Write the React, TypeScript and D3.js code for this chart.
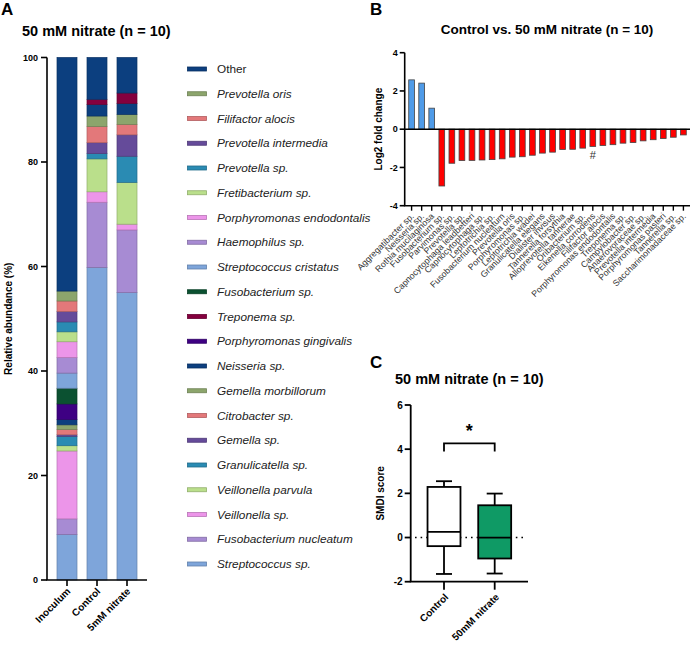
import React from "react";
import * as d3 from "d3";

// ---------- Panel A data ----------
const species = [
  "Other", "Prevotella oris", "Filifactor alocis", "Prevotella intermedia", "Prevotella sp.",
  "Fretibacterium sp.", "Porphyromonas endodontalis", "Haemophilus sp.", "Streptococcus cristatus",
  "Fusobacterium sp.", "Treponema sp.", "Porphyromonas gingivalis", "Neisseria sp.",
  "Gemella morbillorum", "Citrobacter sp.", "Gemella sp.", "Granulicatella sp.",
  "Veillonella parvula", "Veillonella sp.", "Fusobacterium nucleatum", "Streptococcus sp.",
];
const speciesColors = [
  "#0c3f7f", "#8ca56c", "#e3787a", "#654b9a", "#2a8bb3",
  "#badf8b", "#ec95e9", "#a78bd3", "#7ea5da",
  "#0b5131", "#84003e", "#3e0083", "#0c3f7f",
  "#8ca56c", "#e3787a", "#654b9a", "#2a8bb3",
  "#badf8b", "#ec95e9", "#a78bd3", "#7ea5da",
];
const samples = ["Inoculum", "Control", "5mM nitrate"];
const inoculumValues = [44.7, 1.9, 2.0, 2.0, 1.9, 1.9, 3.0, 3.0, 2.9, 3.0, 0, 3.0, 1.0, 0.9, 1.0, 0.3, 1.8, 1.0, 13.0, 3.0, 8.7];
const controlValues = [8.0, 0, 0, 0, 0, 0, 0, 0, 0, 0, 1.0, 0, 2.2, 2.0, 3.1, 2.1, 1.0, 6.3, 2.0, 12.5, 59.8];
const nitrate5Values = [6.8, 0, 0, 0, 0, 0, 0, 0, 0, 0, 2.0, 0, 2.1, 1.9, 2.0, 4.1, 5.0, 8.0, 1.1, 12.0, 55.0];
const yTicksA = [0, 20, 40, 60, 80, 100];

// ---------- Panel B data ----------
const taxaB = [
  "Aggregatibacter sp.", "Neisseria sp.", "Rothia mucilaginosa", "Fusobacterium sp.", "Parvimonas sp.",
  "Prevotella sp.", "Capnocytophaga leadbetteri", "Capnocytophaga sp.", "Leptotrichia sp.",
  "Fusobacterium nucleatum", "Prevotella oris", "Porphyromonas sp.", "Leptotrichia wadei",
  "Granulicatella elegans", "Dialister invisus", "Tannerella forsythia", "Alloprevotella tannerae",
  "Oribacterium sp.", "Eikenella corrodens", "Filifactor alocis", "Porphyromonas endodontalis",
  "Treponema sp.", "Campylobacter sp.", "Anaerovoraceae sp.", "Prevotella intermedia",
  "Porphyromonas pasteri", "Tannerella sp.", "Saccharimonadaceae sp.",
];
const log2FC = [
  2.58, 2.41, 1.10, -2.97, -1.78, -1.64, -1.63, -1.61, -1.59, -1.55, -1.46, -1.44, -1.36,
  -1.25, -1.20, -1.06, -1.05, -0.99, -0.90, -0.85, -0.81, -0.73, -0.70, -0.61, -0.55, -0.49, -0.42, -0.30,
];
const hashTaxa = ["Eikenella corrodens"];
const yTicksB = [-4, -2, 0, 2, 4];

// ---------- Panel C data ----------
const groupsC = ["Control", "50mM nitrate"];
const boxMin = [-1.65, -1.63];
const boxQ1 = [-0.39, -0.95];
const boxMedian = [0.26, 0.0];
const boxQ3 = [2.29, 1.46];
const boxMax = [2.55, 1.99];
const boxFill = ["#ffffff", "#0f9a65"];
const yTicksC = [-2, 0, 2, 4, 6];

const FONT = "'Liberation Sans', Arial, Helvetica, sans-serif";

function PanelA() {
  const y = d3.scaleLinear().domain([0, 100]).range([580, 57.5]);
  const x = d3.scaleBand<string>().domain(samples).range([47, 147]).paddingInner(1 / 3).paddingOuter(1 / 3);
  const valuesBySample = [inoculumValues, controlValues, nitrate5Values];
  const rows = samples.map((s, i) => {
    const r: any = { sample: s };
    species.forEach((sp, j) => (r[sp] = valuesBySample[i][j]));
    return r;
  });
  const keys = [...species].reverse();
  const stacked = d3.stack<any>().keys(keys)(rows);
  const colorOf = (sp: string) => speciesColors[species.indexOf(sp)];
  return (
    <g>
      <text x={1} y={15} fontSize={17} fontWeight="bold">A</text>
      <text x={22} y={36} fontSize={14.5} fontWeight="bold">50 mM nitrate (n = 10)</text>
      {stacked.map((layer) =>
        layer.map((d, i) => {
          const h = y(d[0]) - y(d[1]);
          if (h <= 0) return null;
          const c = colorOf(layer.key);
          return (
            <rect key={layer.key + i} x={x(samples[i])} width={x.bandwidth()} y={y(d[1])} height={h}
              fill={c} stroke={d3.color(c)!.darker(0.7).toString()} strokeWidth={0.7} />
          );
        })
      )}
      <line x1={47} x2={47} y1={y(100)} y2={y(0)} stroke="#000" strokeWidth={1.6} />
      <line x1={46.2} x2={147} y1={y(0)} y2={y(0)} stroke="#000" strokeWidth={1.6} />
      {yTicksA.map((t) => (
        <g key={t}>
          <line x1={41} x2={47} y1={y(t)} y2={y(t)} stroke="#000" strokeWidth={1.6} />
          <text x={38} y={y(t)} dy="0.35em" textAnchor="end" fontSize={9} fontWeight="bold">{t}</text>
        </g>
      ))}
      {samples.map((s) => {
        const cx = x(s)! + x.bandwidth() / 2;
        return (
          <g key={s}>
            <line x1={cx} x2={cx} y1={y(0)} y2={y(0) + 6} stroke="#000" strokeWidth={1.6} />
            <text transform={`translate(${cx + 4},${y(0) + 12}) rotate(-45)`} textAnchor="end"
              fontSize={10} fontWeight="bold">{s}</text>
          </g>
        );
      })}
      <text transform={`translate(12,${(y(0) + y(100)) / 2}) rotate(-90)`} textAnchor="middle"
        fontSize={10} fontWeight="bold">Relative abundance (%)</text>
      {species.map((sp, i) => {
        const ly = 69 + i * 24.75;
        return (
          <g key={sp}>
            <rect x={187.5} y={ly - 2} width={19} height={4} fill={speciesColors[i]}
              stroke={d3.color(speciesColors[i])!.darker(0.7).toString()} strokeWidth={0.8} />
            <text x={217} y={ly} dy="0.35em" fontSize={11.8} fill="#222"
              fontStyle={sp === "Other" ? "normal" : "italic"}>{sp}</text>
          </g>
        );
      })}
    </g>
  );
}

function PanelB() {
  const y = d3.scaleLinear().domain([-4, 4]).range([205.7, 52.7]);
  const x = d3.scaleBand<string>().domain(taxaB).range([405, 690]).paddingInner(0.43).paddingOuter(0.37);
  const ax = 404.7;
  return (
    <g>
      <text x={370} y={15} fontSize={17} fontWeight="bold">B</text>
      <text x={547} y={34} textAnchor="middle" fontSize={13.5} fontWeight="bold">Control vs. 50 mM nitrate (n = 10)</text>
      {taxaB.map((t, i) => {
        const v = log2FC[i];
        return (
          <rect key={t} x={x(t)} width={x.bandwidth()} y={y(Math.max(0, v))} height={Math.abs(y(v) - y(0))}
            fill={v > 0 ? "#4f9be8" : "#ff0000"} stroke="#444" strokeWidth={0.8} />
        );
      })}
      {taxaB.map((t, i) =>
        hashTaxa.includes(t) ? (
          <text key={"h" + t} x={x(t)! + x.bandwidth() / 2} y={y(log2FC[i]) + 13} textAnchor="middle"
            fontSize={11} fill="#333">#</text>
        ) : null
      )}
      <line x1={ax} x2={690} y1={y(0)} y2={y(0)} stroke="#000" strokeWidth={1.4} />
      <line x1={ax} x2={ax} y1={y(4)} y2={y(-4)} stroke="#000" strokeWidth={1.6} />
      <line x1={ax - 0.8} x2={690} y1={y(-4)} y2={y(-4)} stroke="#000" strokeWidth={1.6} />
      {yTicksB.map((t) => (
        <g key={t}>
          <line x1={ax - 5} x2={ax} y1={y(t)} y2={y(t)} stroke="#000" strokeWidth={1.6} />
          <text x={ax - 7} y={y(t)} dy="0.35em" textAnchor="end" fontSize={9} fontWeight="bold">{t}</text>
        </g>
      ))}
      {taxaB.map((t) => {
        const cx = x(t)! + x.bandwidth() / 2;
        return (
          <g key={"t" + t}>
            <line x1={cx} x2={cx} y1={y(-4)} y2={y(-4) + 5} stroke="#000" strokeWidth={1.4} />
            <text transform={`translate(${cx + 3},${y(-4) + 11}) rotate(-45)`} textAnchor="end"
              fontSize={8.8} fill="#333">{t}</text>
          </g>
        );
      })}
      <text transform={`translate(382,${(y(4) + y(-4)) / 2}) rotate(-90)`} textAnchor="middle"
        fontSize={10} fontWeight="bold">Log2 fold change</text>
    </g>
  );
}

function PanelC() {
  const y = d3.scaleLinear().domain([-2, 6]).range([581.7, 405]);
  const x = d3.scaleBand<string>().domain(groupsC).range([410.7, 528]).paddingInner(0.35).paddingOuter(0.332);
  const ax = 410.7;
  const cxs = groupsC.map((g) => x(g)! + x.bandwidth() / 2);
  const bracketY = y(4.26);
  return (
    <g>
      <text x={370} y={368} fontSize={17} fontWeight="bold">C</text>
      <text x={395} y={384} fontSize={14.5} fontWeight="bold">50 mM nitrate (n = 10)</text>
      <line x1={415} x2={527} y1={y(0)} y2={y(0)} stroke="#000" strokeWidth={1.5} strokeDasharray="1.6,4" />
      {groupsC.map((g, i) => {
        const x0 = x(g)!;
        const bw = x.bandwidth();
        const cx = cxs[i];
        return (
          <g key={g} stroke="#000" strokeWidth={1.8}>
            <line x1={cx} x2={cx} y1={y(boxMax[i])} y2={y(boxQ3[i])} />
            <line x1={cx} x2={cx} y1={y(boxQ1[i])} y2={y(boxMin[i])} />
            <line x1={cx - 8} x2={cx + 8} y1={y(boxMax[i])} y2={y(boxMax[i])} />
            <line x1={cx - 8} x2={cx + 8} y1={y(boxMin[i])} y2={y(boxMin[i])} />
            <rect x={x0} width={bw} y={y(boxQ3[i])} height={y(boxQ1[i]) - y(boxQ3[i])} fill={boxFill[i]} />
            <line x1={x0} x2={x0 + bw} y1={y(boxMedian[i])} y2={y(boxMedian[i])} />
          </g>
        );
      })}
      <path d={`M${cxs[0]},${bracketY + 8}V${bracketY}H${cxs[1]}V${bracketY + 8}`} fill="none" stroke="#000" strokeWidth={1.8} />
      <text x={(cxs[0] + cxs[1]) / 2} y={437} textAnchor="middle" fontSize={18} fontWeight="bold">*</text>
      <line x1={ax} x2={ax} y1={y(6)} y2={y(-2)} stroke="#000" strokeWidth={1.8} />
      <line x1={ax - 0.9} x2={528} y1={y(-2)} y2={y(-2)} stroke="#000" strokeWidth={1.8} />
      {yTicksC.map((t) => (
        <g key={t}>
          <line x1={ax - 6} x2={ax} y1={y(t)} y2={y(t)} stroke="#000" strokeWidth={1.8} />
          <text x={ax - 8} y={y(t)} dy="0.35em" textAnchor="end" fontSize={10} fontWeight="bold">{t}</text>
        </g>
      ))}
      {groupsC.map((g, i) => (
        <g key={"l" + g}>
          <line x1={cxs[i]} x2={cxs[i]} y1={y(-2)} y2={y(-2) + 8} stroke="#000" strokeWidth={1.8} />
          <text transform={`translate(${cxs[i] + 5},${y(-2) + 16}) rotate(-45)`} textAnchor="end"
            fontSize={10} fontWeight="bold">{g}</text>
        </g>
      ))}
      <text transform={`translate(384,${(y(6) + y(-2)) / 2}) rotate(-90)`} textAnchor="middle"
        fontSize={10} fontWeight="bold">SMDI score</text>
    </g>
  );
}

export default function App() {
  return (
    <svg width={691} height={650} viewBox="0 0 691 650"
      style={{ position: "absolute", left: 0, top: 0, background: "#fff" }} fontFamily={FONT}>
      <rect width={691} height={650} fill="#fff" />
      <PanelA />
      <PanelB />
      <PanelC />
    </svg>
  );
}
